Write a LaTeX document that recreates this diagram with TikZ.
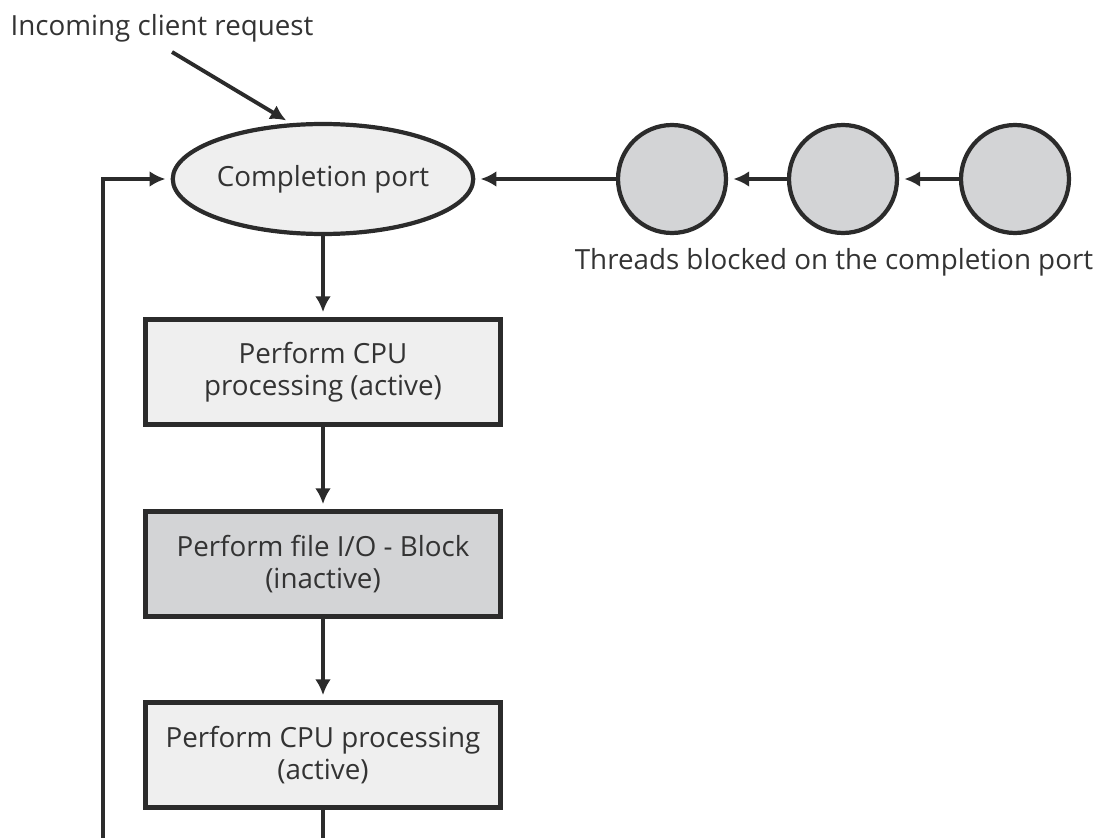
\documentclass[tikz,border=0pt]{standalone}
\usepackage{fontspec}
\setmainfont{Open Sans}
\usetikzlibrary{shapes.geometric,arrows.meta}
\definecolor{lightfill}{HTML}{EFEFEF}
\definecolor{darkfill}{HTML}{D3D4D6}
\definecolor{linec}{HTML}{2B2B2B}
\definecolor{textc}{HTML}{333333}
\begin{document}
\begin{tikzpicture}[x=0.02cm, y=-0.02cm, >={Latex[length=9pt,width=9pt]},
  font=\fontsize{15.8}{18.5}\selectfont, text=textc,
  box/.style={draw=linec, line width=2.4pt, fill=lightfill, minimum width=7.1cm,
    minimum height=2.1cm, align=center, inner sep=0pt},
  port/.style={ellipse, draw=linec, line width=2.4pt, fill=lightfill,
    minimum width=5.9cm, minimum height=2.2cm, inner sep=0pt},
  thread/.style={circle, draw=linec, line width=2.4pt, fill=darkfill, minimum size=2.16cm},
  flow/.style={->, draw=linec, line width=2.2pt, shorten >=3pt}]
\useasboundingbox (0,0) rectangle (1099,838);
% completion port and the waiting threads
\node[port] (port) at (323,179) {Completion port};
\node[thread] (t1) at (672,179) {};
\node[thread] (t2) at (843,179) {};
\node[thread] (t3) at (1015,179) {};
\node (tlabel) at (834,262) {Threads blocked on the completion port};
\node (req) at (162,28) {Incoming client request};
\coordinate (reqtail) at (172,52);
% work done per request
\node[box] (cpu1) at (323,372) {Perform CPU\\processing (active)};
\node[box, fill=darkfill] (io) at (323,564) {Perform file I/O - Block\\(inactive)};
\node[box] (cpu2) at (323,755) {Perform CPU processing\\(active)};
\coordinate (loopend) at (103,838);
\draw[flow] (reqtail) -- (port.120);
\draw[flow] (t1) -- (port);
\draw[flow] (t2) -- (t1);
\draw[flow] (t3) -- (t2);
\draw[flow] (port) -- (cpu1);
\draw[flow] (cpu1) -- (io);
\draw[flow] (io) -- (cpu2);
\draw[draw=linec, line width=2.2pt] (cpu2) -- (cpu2 |- loopend);
\draw[flow] (loopend) |- (port.west);
\end{tikzpicture}
\end{document}
